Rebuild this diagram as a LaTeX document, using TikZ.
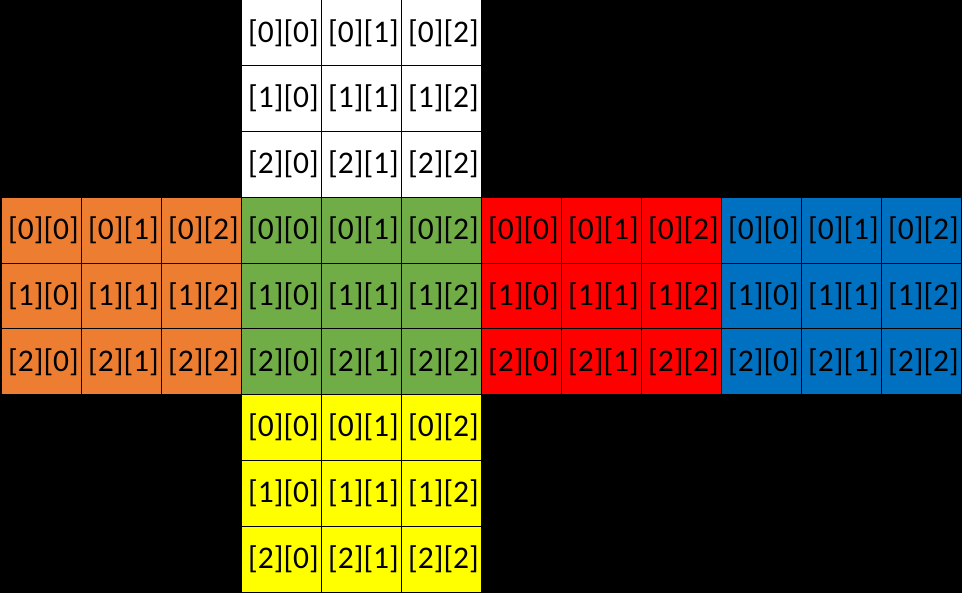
\documentclass[tikz,border=0pt]{standalone}
\usepackage{fontspec}
\setmainfont{Carlito}
\definecolor{cwhite}{HTML}{FFFFFF}
\definecolor{corange}{HTML}{ED7D31}
\definecolor{cgreen}{HTML}{70AD47}
\definecolor{cred}{HTML}{FF0000}
\definecolor{cblue}{HTML}{0070C0}
\definecolor{cyellow}{HTML}{FFFF00}
\begin{document}
\begin{tikzpicture}[x=1pt,y=-1pt,
  cell/.style={draw=black,line width=1pt,minimum width=80pt,minimum height=65.8pt,
    inner sep=0pt,outer sep=0pt,anchor=north west,font=\fontsize{31.5}{31.5}\selectfont,text=black}]
\fill[black] (0,0) rectangle (962,593);
\useasboundingbox (0,0) rectangle (962,593);
\foreach \name/\col/\cx/\cy in {W/cwhite/3/0,O/corange/0/3,G/cgreen/3/3,R/cred/6/3,B/cblue/9/3,Y/cyellow/3/6}{
  \foreach \i in {0,1,2}{
    \foreach \j in {0,1,2}{
      \pgfmathsetmacro{\xx}{1+80*(\cx+\j)}
      \pgfmathsetmacro{\yy}{65.8*(\cy+\i)}
      \node[cell,fill=\col] (\name\i\j) at (\xx,\yy) {\hspace*{5pt}[\i][\j]};
    }
  }
}
\end{tikzpicture}
\end{document}
